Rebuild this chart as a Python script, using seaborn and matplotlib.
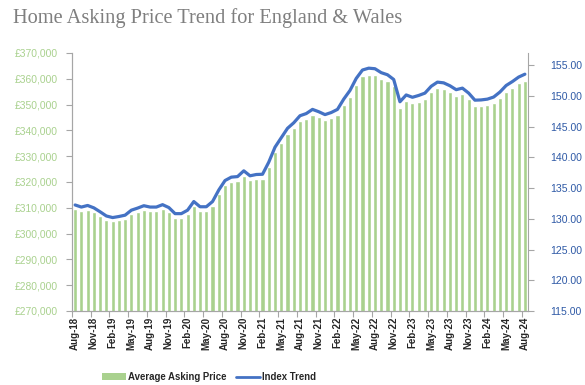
import numpy as np
import pandas as pd
import matplotlib
matplotlib.use("Agg")
import matplotlib.pyplot as plt
from matplotlib.patches import Patch
from matplotlib.lines import Line2D
import seaborn as sns

# ------------------------------------------------------------------
# Data, monthly Aug-18 .. Aug-24
# ------------------------------------------------------------------
months = pd.date_range("2018-08-01", periods=73, freq="MS").strftime("%b-%y").tolist()

avg_price = [
    309500, 308700, 309300, 308400, 306900, 305300, 304700, 305100, 305600, 307500,
    308300, 309200, 308700, 308700, 309600, 308500, 306200, 306200, 307500, 310800,
    308800, 308800, 310800, 315200, 318800, 320100, 320300, 322500, 320600, 321100,
    321200, 325800, 331500, 335100, 338700, 340800, 343500, 344300, 345900, 345000,
    343900, 344700, 345900, 349800, 353100, 357700, 360900, 361600, 361400, 359900,
    359100, 357300, 348800, 351400, 350500, 351200, 352100, 354700, 356300, 356000,
    354900, 353400, 354000, 352100, 349400, 349500, 349800, 350600, 352500, 355000,
    356500, 358200, 359300,
]

index_trend = [
    132.26, 131.92, 132.18, 131.79, 131.15, 130.47, 130.21, 130.38, 130.60, 131.41,
    131.75, 132.14, 131.92, 131.92, 132.31, 131.84, 130.85, 130.85, 131.41, 132.82,
    131.97, 131.97, 132.82, 134.70, 136.24, 136.79, 136.88, 137.82, 137.01, 137.22,
    137.26, 139.23, 141.67, 143.21, 144.74, 145.64, 146.79, 147.14, 147.82, 147.44,
    146.97, 147.31, 147.82, 149.49, 150.90, 152.86, 154.23, 154.53, 154.44, 153.80,
    153.46, 152.69, 149.06, 150.17, 149.79, 150.09, 150.47, 151.58, 152.26, 152.14,
    151.67, 151.03, 151.28, 150.47, 149.32, 149.36, 149.49, 149.83, 150.64, 151.71,
    152.35, 153.08, 153.55,
]

left_ticks = list(range(270000, 370001, 10000))
right_ticks = list(range(115, 156, 5))

# ------------------------------------------------------------------
# Style
# ------------------------------------------------------------------
sns.set_theme(style="white")
plt.rcParams["font.family"] = ["Liberation Sans", "DejaVu Sans"]

BAR_GREEN = "#a9d18e"
LINE_BLUE = "#4472c4"
LEFT_LBL = "#a9d18e"
RIGHT_LBL = "#2f5aa6"
AXIS_GREY = "#a6a6a6"

df = pd.DataFrame({"month": months, "price": avg_price,
                   "pos": np.arange(len(months)), "index": index_trend})

fig = plt.figure(figsize=(5.85, 3.85), dpi=100)
ax = fig.add_axes([72 / 585, 1 - 311 / 385, (528 - 72) / 585, (311 - 53) / 385])

sns.barplot(data=df, x="month", y="price", order=months, color=BAR_GREEN,
            saturation=1, width=0.66, ax=ax)
ax.set_ylim(270000, 370000)
ax.set_xlim(-0.5, len(months) - 0.5)
ax.set_yticks(left_ticks)
ax.set_yticklabels([f"£{v:,.0f}" for v in left_ticks], color=LEFT_LBL, fontsize=7.4)
ax.set_xlabel("")
ax.set_ylabel("")

ax2 = ax.twinx()
sns.lineplot(data=df, x="pos", y="index", color=LINE_BLUE, linewidth=2.3, ax=ax2)
ax2.set_ylim(115, 157)
ax2.set_yticks(right_ticks)
ax2.set_yticklabels([f"{v:.2f}" for v in right_ticks], color=RIGHT_LBL, fontsize=7.6)
ax2.set_ylabel("")
ax2.set_xlim(-0.5, len(months) - 0.5)

# x ticks: labels every 3 months, tick marks between categories
ax.set_xticks(range(0, len(months), 3))
ax.set_xticklabels(months[::3], rotation=90, fontsize=7, fontweight="bold", color="#262626")
ax.set_xticks(np.arange(-0.5, len(months), 3), minor=True)
ax.tick_params(axis="x", which="major", length=0, pad=4)
ax.tick_params(axis="x", which="minor", length=4, width=0.8, color=AXIS_GREY, bottom=True)
ax.tick_params(axis="y", length=4, width=0.8, color=AXIS_GREY, left=True, pad=6)
ax2.tick_params(axis="y", length=4, width=0.8, color=AXIS_GREY, right=True, pad=12)

for a in (ax, ax2):
    a.spines["top"].set_visible(False)
    for side in ("left", "right", "bottom"):
        a.spines[side].set_color(AXIS_GREY)
        a.spines[side].set_linewidth(0.8)
ax.spines["right"].set_visible(False)

fig.text(13 / 585, 1 - 18 / 385, "Home Asking Price Trend for England & Wales",
         family=["Liberation Serif", "DejaVu Serif"], fontsize=14.7, color="#7f7f7f",
         ha="left", va="center")

handles = [Patch(facecolor=BAR_GREEN, edgecolor="none"),
           Line2D([0], [0], color=LINE_BLUE, linewidth=2.0)]
fig.legend(handles, ["Average Asking Price", "Index Trend"], loc="center",
           bbox_to_anchor=(209 / 585, 1 - 377 / 385), ncol=2, frameon=False,
           prop={"size": 6.9, "weight": "bold"}, labelcolor="#262626",
           handlelength=2.5, handleheight=0.65, columnspacing=1.0,
           handletextpad=0.2, borderpad=0.2)

fig.savefig("out.png", dpi=100)
